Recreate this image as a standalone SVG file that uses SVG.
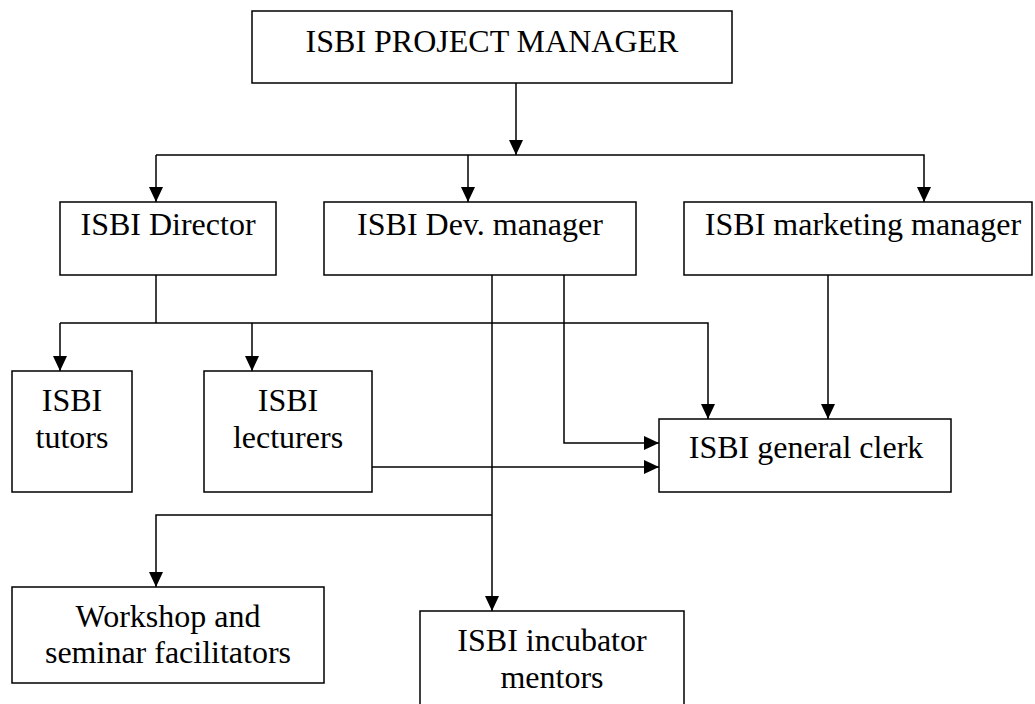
<svg xmlns="http://www.w3.org/2000/svg" width="1035" height="704" viewBox="0 0 1035 704">
<style>
.box{fill:#fff;stroke:#000;stroke-width:1.5}
.c{fill:none;stroke:#000;stroke-width:1.5}
.t{font-family:'Liberation Serif','Times New Roman',serif;font-size:32px;fill:#000;text-anchor:middle}
</style>
<defs>
<marker id="ah" markerUnits="userSpaceOnUse" markerWidth="16" markerHeight="14" refX="15" refY="7" orient="auto">
<path d="M0,0 L15,7 L0,14 z" fill="#000"/>
</marker>
</defs>
<rect width="1035" height="704" fill="#fff"/>
<g id="connectors">
<path class="c" d="M516,83 V155" marker-end="url(#ah)"/>
<path class="c" d="M156,155 H924 V202" marker-end="url(#ah)"/>
<path class="c" d="M156,155 V202" marker-end="url(#ah)"/>
<path class="c" d="M468,155 V202" marker-end="url(#ah)"/>
<path class="c" d="M156,275 V323"/>
<path class="c" d="M60,323 H708 V419" marker-end="url(#ah)"/>
<path class="c" d="M60,323 V371" marker-end="url(#ah)"/>
<path class="c" d="M252,323 V371" marker-end="url(#ah)"/>
<path class="c" d="M492,275 V611" marker-end="url(#ah)"/>
<path class="c" d="M492,515 H156 V587" marker-end="url(#ah)"/>
<path class="c" d="M564,275 V443 H659" marker-end="url(#ah)"/>
<path class="c" d="M372,467 H659" marker-end="url(#ah)"/>
<path class="c" d="M828,275 V419" marker-end="url(#ah)"/>
</g>
<g id="project-manager">
<rect class="box" x="252" y="11" width="480" height="72"/>
<text class="t" x="492" y="52">ISBI PROJECT MANAGER</text>
</g>
<g id="director">
<rect class="box" x="60" y="202" width="216" height="73"/>
<text class="t" x="168" y="235">ISBI Director</text>
</g>
<g id="dev-manager">
<rect class="box" x="324" y="202" width="312" height="73"/>
<text class="t" x="480" y="235">ISBI Dev. manager</text>
</g>
<g id="marketing-manager">
<rect class="box" x="684" y="202" width="348" height="73"/>
<text class="t" x="863" y="235">ISBI marketing manager</text>
</g>
<g id="tutors">
<rect class="box" x="12" y="371" width="120" height="121"/>
<text class="t" x="72" y="411">ISBI</text>
<text class="t" x="72" y="448">tutors</text>
</g>
<g id="lecturers">
<rect class="box" x="204" y="371" width="168" height="121"/>
<text class="t" x="288" y="411">ISBI</text>
<text class="t" x="288" y="448">lecturers</text>
</g>
<g id="general-clerk">
<rect class="box" x="659" y="419" width="292" height="73"/>
<text class="t" x="806" y="458">ISBI general clerk</text>
</g>
<g id="workshop">
<rect class="box" x="12" y="587" width="312" height="96"/>
<text class="t" x="168" y="627">Workshop and</text>
<text class="t" x="168" y="663">seminar facilitators</text>
</g>
<g id="incubator">
<rect class="box" x="420" y="611" width="264" height="100"/>
<text class="t" x="552" y="651">ISBI incubator</text>
<text class="t" x="552" y="688">mentors</text>
</g>
</svg>
